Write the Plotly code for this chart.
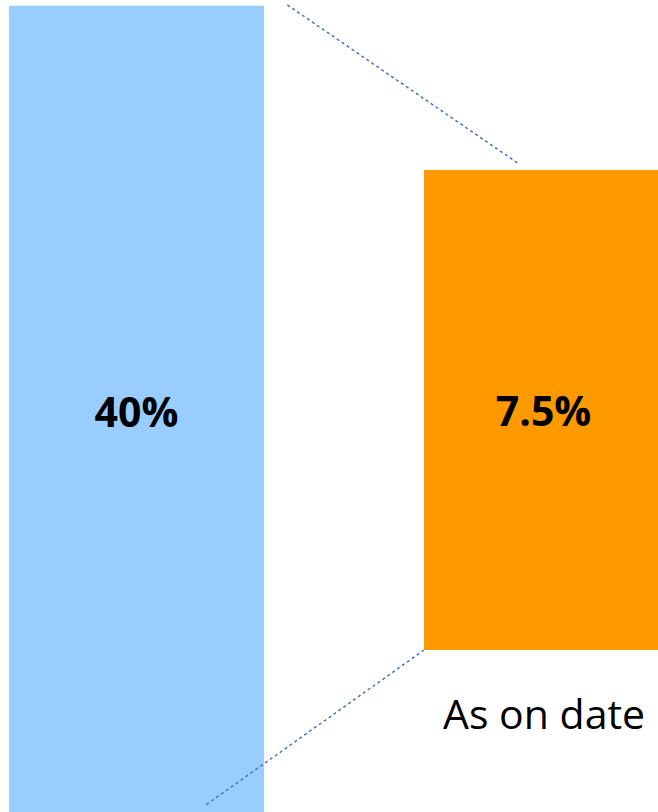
import plotly.graph_objects as go

# ---- data ----
categories = ["", "As on date"]
value_labels = ["40%", "7.5%"]
bar_positions = [0, 1]
bar_widths = [0.627, 0.587]
bar_base = [-0.5, 19.95]
bar_top = [99.3, 79.05]
bar_colors = ["#99CCFF", "#FF9900"]

fig = go.Figure()

for i in range(len(categories)):
    fig.add_trace(go.Bar(
        x=[bar_positions[i]],
        y=[bar_top[i] - bar_base[i]],
        base=[bar_base[i]],
        width=[bar_widths[i]],
        marker=dict(color=bar_colors[i], line=dict(width=0)),
        text=[value_labels[i]],
        textposition="inside",
        insidetextanchor="middle",
        textangle=0,
        constraintext="none",
        textfont=dict(family="Open Sans", size=41, color="black", weight="bold"),
        hoverinfo="skip",
        showlegend=False,
    ))

# connector lines derived from bar geometry
blue_right = bar_positions[0] + bar_widths[0] / 2
orange_left = bar_positions[1] - bar_widths[1] / 2
upper_x = [blue_right + 0.057, orange_left + 0.2335]
upper_y = [bar_top[0] + 0.1, bar_top[1] + 0.75]
lower_x = [orange_left, bar_positions[0] + 0.166]
lower_y = [bar_base[1], bar_base[0] + 1.2]

for xs, ys in [(upper_x, upper_y), (lower_x, lower_y)]:
    fig.add_trace(go.Scatter(
        x=xs, y=ys, mode="lines",
        line=dict(color="#4472C4", width=1.5, dash="dot"),
        hoverinfo="skip", showlegend=False,
    ))

fig.add_annotation(
    x=bar_positions[1], y=bar_base[1] - 7.8,
    text=categories[1], showarrow=False,
    font=dict(family="Open Sans", size=41, color="black"),
    xanchor="center", yanchor="middle",
)

fig.update_layout(
    width=658, height=812,
    margin=dict(l=0, r=0, t=0, b=0),
    paper_bgcolor="white", plot_bgcolor="white",
    barmode="overlay",
    xaxis=dict(range=[-0.3354, 1.2813], visible=False, fixedrange=True),
    yaxis=dict(range=[0, 100], visible=False, fixedrange=True),
)

fig.write_html("out.html")
